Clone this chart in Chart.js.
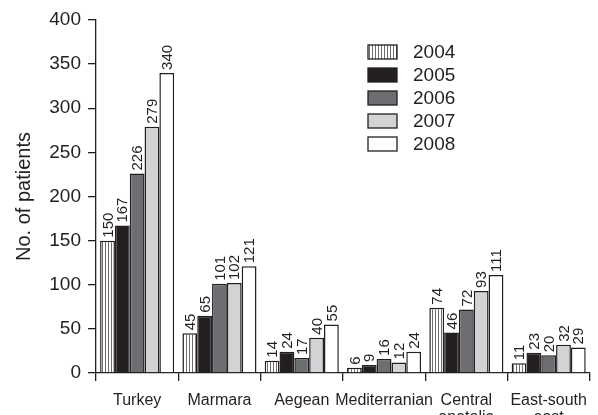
<!DOCTYPE html>
<html>
<head>
<meta charset="utf-8">
<script src="https://cdn.jsdelivr.net/npm/chart.js@4/dist/chart.umd.min.js"></script>
<style>
  html, body { margin: 0; padding: 0; background: #fff; }
  #wrap { width: 598px; height: 415px; }
</style>
</head>
<body>
<div id="wrap"><canvas id="bars"></canvas></div>
<script>
var regions = ["Turkey", "Marmara", "Aegean", "Mediterranian", ["Central", "anatolia"], ["East-south", "east"]];
var years = ["2004", "2005", "2006", "2007", "2008"];
var v2004 = [150, 45, 14, 6, 74, 11];
var v2005 = [167, 65, 24, 9, 46, 23];
var v2006 = [226, 101, 17, 16, 72, 20];
var v2007 = [279, 102, 40, 12, 93, 32];
var v2008 = [340, 121, 55, 24, 111, 29];
var yTicks = [0, 50, 100, 150, 200, 250, 300, 350, 400];

var ink = "#231f20";
var fontName = "'Liberation Sans', Arial, sans-serif";

// vertical hatch for 2004
var pc = document.createElement("canvas");
pc.width = 3; pc.height = 4;
var pctx = pc.getContext("2d");
pctx.fillStyle = "#ffffff";
pctx.fillRect(0, 0, 3, 4);
pctx.fillStyle = "#6d6e71";
pctx.fillRect(0, 0, 1, 4);
var hatch = pctx.createPattern(pc, "repeat");

var fills = [hatch, ink, "#6d6e71", "#d1d3d4", "#ffffff"];
var series = [v2004, v2005, v2006, v2007, v2008];

var barLabels = {
  id: "barLabels",
  afterDatasetsDraw: function(chart) {
    var ctx = chart.ctx;
    ctx.save();
    ctx.fillStyle = ink;
    ctx.font = "15px " + fontName;
    ctx.textAlign = "left";
    ctx.textBaseline = "middle";
    chart.data.datasets.forEach(function(ds, i) {
      chart.getDatasetMeta(i).data.forEach(function(bar, j) {
        ctx.save();
        ctx.translate(bar.x + 1, bar.y - 3);
        ctx.rotate(-Math.PI / 2);
        ctx.fillText(String(ds.data[j]), 0, 0);
        ctx.restore();
      });
    });
    ctx.restore();
  }
};

var yearLegend = {
  id: "yearLegend",
  afterDraw: function(chart) {
    var ctx = chart.ctx;
    ctx.save();
    ctx.font = "19px " + fontName;
    ctx.textBaseline = "middle";
    chart.data.datasets.forEach(function(ds, i) {
      var cy = 52 + i * 23;
      ctx.fillStyle = ds.backgroundColor;
      ctx.fillRect(368, cy - 7, 29, 14);
      ctx.strokeStyle = ink;
      ctx.lineWidth = 1.3;
      ctx.strokeRect(368, cy - 7, 29, 14);
      ctx.fillStyle = ink;
      ctx.fillText(ds.label, 413, cy + 1);
    });
    ctx.restore();
  }
};

var datasets = years.map(function(y, i) {
  return {
    label: y,
    data: series[i],
    backgroundColor: fills[i],
    borderColor: ink,
    borderWidth: 1.5,
    borderSkipped: "bottom",
    barPercentage: 1,
    categoryPercentage: 0.9
  };
});

new Chart("bars", {
  type: "bar",
  data: { labels: regions, datasets: datasets },
  plugins: [barLabels, yearLegend],
  options: {
    responsive: true,
    maintainAspectRatio: false,
    animation: false,
    layout: { padding: { top: 20, right: 1, left: 0, bottom: 0 } },
    plugins: { legend: { display: false }, tooltip: { enabled: false } },
    scales: {
      x: {
        afterFit: function(s) { s.height = 42; },
        border: { color: ink, width: 1.3 },
        grid: { offset: true, drawOnChartArea: false, drawTicks: true, tickLength: 8, color: ink, lineWidth: 1.3 },
        ticks: { color: ink, font: { family: fontName, size: 16, lineHeight: 1.05 }, padding: 11, maxRotation: 0, autoSkip: false }
      },
      y: {
        min: 0,
        max: 400,
        afterFit: function(s) { s.width = 96; },
        afterBuildTicks: function(s) { s.ticks = yTicks.map(function(v) { return { value: v }; }); },
        border: { color: ink, width: 1.3 },
        grid: { drawOnChartArea: false, drawTicks: true, tickLength: 8, color: ink, lineWidth: 1.3 },
        ticks: { color: ink, font: { family: fontName, size: 19 }, padding: 7 },
        title: { display: true, text: "No. of patients", color: ink, font: { family: fontName, size: 20 }, padding: { top: 12, bottom: 0 } }
      }
    }
  }
});
</script>
</body>
</html>
